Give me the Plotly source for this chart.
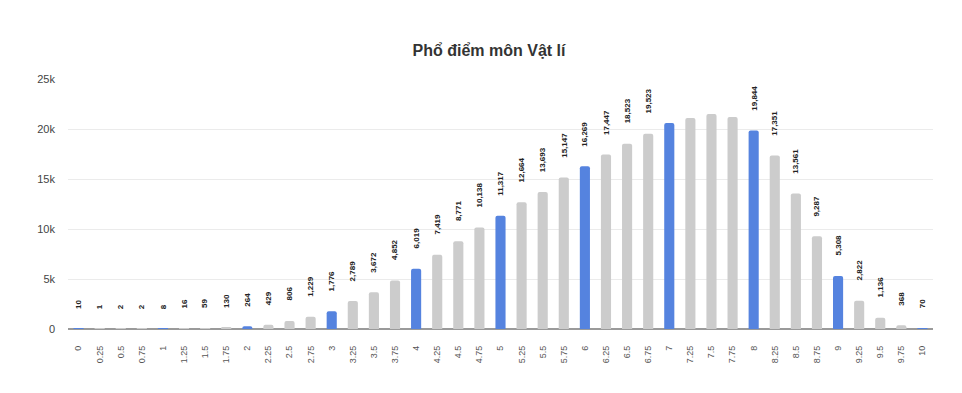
import plotly.graph_objects as go

scores = ["0", "0.25", "0.5", "0.75", "1", "1.25", "1.5", "1.75", "2", "2.25", "2.5", "2.75",
          "3", "3.25", "3.5", "3.75", "4", "4.25", "4.5", "4.75", "5", "5.25", "5.5", "5.75",
          "6", "6.25", "6.5", "6.75", "7", "7.25", "7.5", "7.75", "8", "8.25", "8.5", "8.75",
          "9", "9.25", "9.5", "9.75", "10"]
counts = [10, 1, 2, 2, 8, 16, 59, 130, 264, 429, 806, 1229,
          1776, 2789, 3672, 4852, 6019, 7419, 8771, 10138, 11317, 12664, 13693, 15147,
          16269, 17447, 18523, 19523, 20600, 21100, 21500, 21200, 19844, 17351, 13561, 9287,
          5308, 2822, 1136, 368, 70]
# labels hidden in the reference for these categories
hidden_labels = ["7", "7.25", "7.5", "7.75"]
y_ticks = [0, 5000, 10000, 15000, 20000, 25000]
y_tick_text = ["0", "5k", "10k", "15k", "20k", "25k"]

BLUE = "#5583df"
GRAY = "#cccccc"
colors = [BLUE if float(s).is_integer() else GRAY for s in scores]

fig = go.Figure(go.Bar(
    x=scores, y=counts,
    marker=dict(color=colors, line=dict(width=0), cornerradius=2),
    hoverinfo="x+y",
))

annotations = []
for i, (s, c) in enumerate(zip(scores, counts)):
    if s in hidden_labels:
        continue
    annotations.append(dict(
        x=i, y=c, xref="x", yref="y",
        text=f"{c:,}", showarrow=False, textangle=-90,
        xanchor="center", yanchor="bottom", yshift=18,
        font=dict(family="Arial", size=8, color="#222222", weight="bold"),
    ))

fig.update_layout(
    width=962, height=393,
    margin=dict(l=60, r=37, t=71, b=72),
    paper_bgcolor="white", plot_bgcolor="white",
    title=dict(text="<b>Phổ điểm môn Vật lí</b>", x=0.5, xanchor="center",
               y=0.893, yanchor="middle",
               font=dict(family="Arial", size=16, color="#333333")),
    bargap=0.52,
    showlegend=False,
    annotations=annotations,
    xaxis=dict(
        type="category", tickangle=-90, showgrid=False, ticks="",
        tickfont=dict(family="Arial", size=9, color="#555555"),
        ticklabelstandoff=14,
    ),
    yaxis=dict(
        range=[0, 25000], tickvals=y_ticks, ticktext=y_tick_text,
        showgrid=True, gridcolor="#ebebeb", gridwidth=1,
        zeroline=True, zerolinecolor="#9a9a9a", zerolinewidth=2,
        tickfont=dict(family="Arial", size=11, color="#444444"),
        ticklabelstandoff=12,
    ),
)

fig.write_html("out.html")
